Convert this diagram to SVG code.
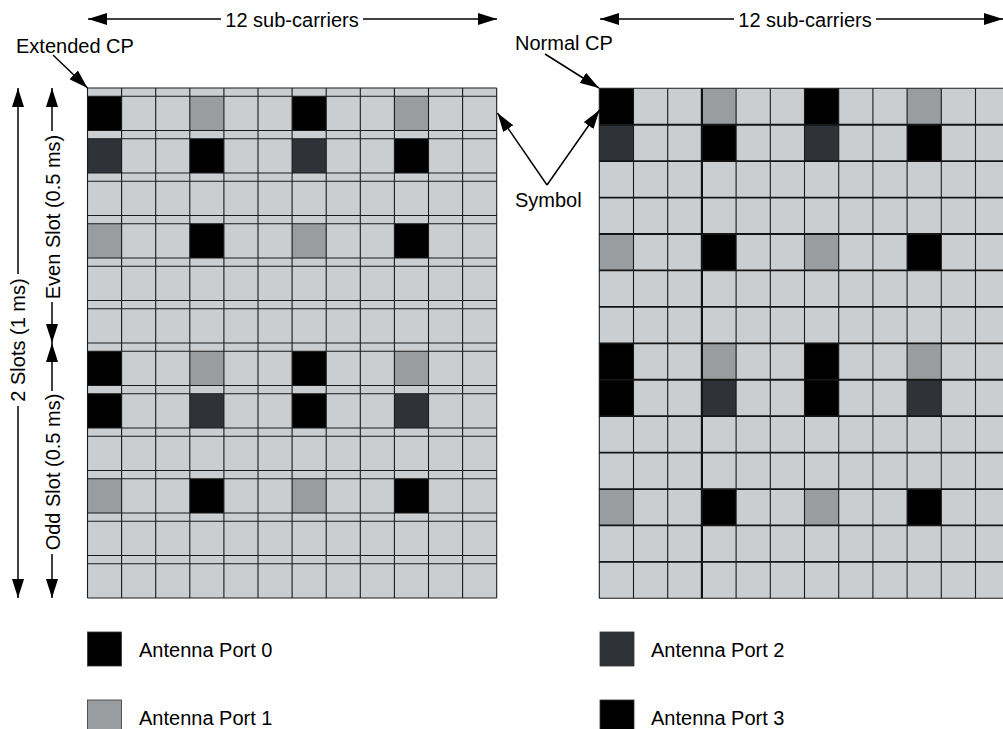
<svg xmlns="http://www.w3.org/2000/svg" width="1003" height="729" viewBox="0 0 1003 729">
<style>
  text { font-family: "Liberation Sans", Arial, sans-serif; font-size: 20px; fill: #000; }
  .bg { fill: #cbced1; }
  .k { fill: #000; }
  .d { fill: #2f3338; }
  .g { fill: #9a9d9f; }
  .grid { fill: none; stroke: #1a1a1a; stroke-width: 1.1; }
  .hgrid { fill: none; stroke: #151515; stroke-width: 1.8; }
  .thick { fill: none; stroke: #111; stroke-width: 2.2; }
  .conn { fill: none; stroke: #000; stroke-width: 1.5; }
  .sw { stroke: #333; stroke-width: 0.8; }
</style>
<defs>
  <marker id="ah" viewBox="0 0 19 12" refX="19" refY="6" markerWidth="19" markerHeight="12" markerUnits="userSpaceOnUse" orient="auto-start-reverse">
    <path d="M0,0 L19,6 L0,12 z" fill="#000"/>
  </marker>
</defs>
<rect width="1003" height="729" fill="#fff"/>

<g id="left-grid">
  <rect class="bg" x="87.5" y="88" width="409.2" height="510"/>
  <!-- row 0 -->
  <rect class="k" x="87.5" y="96.3" width="34.1" height="34.2"/>
  <rect class="g" x="189.8" y="96.3" width="34.1" height="34.2"/>
  <rect class="k" x="292.1" y="96.3" width="34.1" height="34.2"/>
  <rect class="g" x="394.4" y="96.3" width="34.1" height="34.2"/>
  <!-- row 1 -->
  <rect class="d" x="87.5" y="138.8" width="34.1" height="34.2"/>
  <rect class="k" x="189.8" y="138.8" width="34.1" height="34.2"/>
  <rect class="d" x="292.1" y="138.8" width="34.1" height="34.2"/>
  <rect class="k" x="394.4" y="138.8" width="34.1" height="34.2"/>
  <!-- row 3 -->
  <rect class="g" x="87.5" y="223.8" width="34.1" height="34.2"/>
  <rect class="k" x="189.8" y="223.8" width="34.1" height="34.2"/>
  <rect class="g" x="292.1" y="223.8" width="34.1" height="34.2"/>
  <rect class="k" x="394.4" y="223.8" width="34.1" height="34.2"/>
  <!-- row 6 -->
  <rect class="k" x="87.5" y="351.3" width="34.1" height="34.2"/>
  <rect class="g" x="189.8" y="351.3" width="34.1" height="34.2"/>
  <rect class="k" x="292.1" y="351.3" width="34.1" height="34.2"/>
  <rect class="g" x="394.4" y="351.3" width="34.1" height="34.2"/>
  <!-- row 7 -->
  <rect class="k" x="87.5" y="393.8" width="34.1" height="34.2"/>
  <rect class="d" x="189.8" y="393.8" width="34.1" height="34.2"/>
  <rect class="k" x="292.1" y="393.8" width="34.1" height="34.2"/>
  <rect class="d" x="394.4" y="393.8" width="34.1" height="34.2"/>
  <!-- row 9 -->
  <rect class="g" x="87.5" y="478.8" width="34.1" height="34.2"/>
  <rect class="k" x="189.8" y="478.8" width="34.1" height="34.2"/>
  <rect class="g" x="292.1" y="478.8" width="34.1" height="34.2"/>
  <rect class="k" x="394.4" y="478.8" width="34.1" height="34.2"/>
  <path class="grid" d="M87.5 88H496.7 M87.5 96.3H496.7 M87.5 130.5H496.7 M87.5 138.8H496.7 M87.5 173H496.7 M87.5 181.3H496.7 M87.5 215.5H496.7 M87.5 223.8H496.7 M87.5 258H496.7 M87.5 266.3H496.7 M87.5 300.5H496.7 M87.5 308.8H496.7 M87.5 343H496.7 M87.5 351.3H496.7 M87.5 385.5H496.7 M87.5 393.8H496.7 M87.5 428H496.7 M87.5 436.3H496.7 M87.5 470.5H496.7 M87.5 478.8H496.7 M87.5 513H496.7 M87.5 521.3H496.7 M87.5 555.5H496.7 M87.5 563.8H496.7 M87.5 598H496.7"/>
  <path class="grid" d="M87.5 88V598 M121.6 88V598 M155.7 88V598 M189.8 88V598 M223.9 88V598 M258 88V598 M292.1 88V598 M326.2 88V598 M360.3 88V598 M394.4 88V598 M428.5 88V598 M462.6 88V598 M496.7 88V598"/>
</g>

<g id="right-grid">
  <rect class="bg" x="599.3" y="88.3" width="410.4" height="510"/>
  <!-- row 0 -->
  <rect class="k" x="599.3" y="88.3" width="34.2" height="36.43"/>
  <rect class="g" x="701.9" y="88.3" width="34.2" height="36.43"/>
  <rect class="k" x="804.5" y="88.3" width="34.2" height="36.43"/>
  <rect class="g" x="907.1" y="88.3" width="34.2" height="36.43"/>
  <!-- row 1 -->
  <rect class="d" x="599.3" y="124.73" width="34.2" height="36.43"/>
  <rect class="k" x="701.9" y="124.73" width="34.2" height="36.43"/>
  <rect class="d" x="804.5" y="124.73" width="34.2" height="36.43"/>
  <rect class="k" x="907.1" y="124.73" width="34.2" height="36.43"/>
  <!-- row 4 -->
  <rect class="g" x="599.3" y="234.02" width="34.2" height="36.43"/>
  <rect class="k" x="701.9" y="234.02" width="34.2" height="36.43"/>
  <rect class="g" x="804.5" y="234.02" width="34.2" height="36.43"/>
  <rect class="k" x="907.1" y="234.02" width="34.2" height="36.43"/>
  <!-- row 7 -->
  <rect class="k" x="599.3" y="343.31" width="34.2" height="36.43"/>
  <rect class="g" x="701.9" y="343.31" width="34.2" height="36.43"/>
  <rect class="k" x="804.5" y="343.31" width="34.2" height="36.43"/>
  <rect class="g" x="907.1" y="343.31" width="34.2" height="36.43"/>
  <!-- row 8 -->
  <rect class="k" x="599.3" y="379.74" width="34.2" height="36.43"/>
  <rect class="d" x="701.9" y="379.74" width="34.2" height="36.43"/>
  <rect class="k" x="804.5" y="379.74" width="34.2" height="36.43"/>
  <rect class="d" x="907.1" y="379.74" width="34.2" height="36.43"/>
  <!-- row 11 -->
  <rect class="g" x="599.3" y="489.03" width="34.2" height="36.43"/>
  <rect class="k" x="701.9" y="489.03" width="34.2" height="36.43"/>
  <rect class="g" x="804.5" y="489.03" width="34.2" height="36.43"/>
  <rect class="k" x="907.1" y="489.03" width="34.2" height="36.43"/>
  <path class="grid" d="M599.3 88.3V598.3 M633.5 88.3V598.3 M667.7 88.3V598.3 M736.1 88.3V598.3 M770.3 88.3V598.3 M804.5 88.3V598.3 M838.7 88.3V598.3 M872.9 88.3V598.3 M907.1 88.3V598.3 M941.3 88.3V598.3 M975.5 88.3V598.3"/>
  <path class="thick" d="M701.9 88.3V598.3"/>
  <path class="grid" d="M599.3 88.3H1003 M599.3 598.3H1003"/>
  <path class="hgrid" d="M599.3 124.73H1003 M599.3 161.16H1003 M599.3 197.59H1003 M599.3 234.02H1003 M599.3 270.45H1003 M599.3 306.88H1003 M599.3 343.31H1003 M599.3 379.74H1003 M599.3 416.17H1003 M599.3 452.6H1003 M599.3 489.03H1003 M599.3 525.46H1003 M599.3 561.89H1003"/>
</g>

<g id="connectors">
  <path class="conn" d="M221 19H88" marker-end="url(#ah)"/>
  <path class="conn" d="M363 19H497" marker-end="url(#ah)"/>
  <path class="conn" d="M734 19H600" marker-end="url(#ah)"/>
  <path class="conn" d="M876 19H1003" marker-end="url(#ah)"/>
  <path class="conn" d="M53 55L87.5 88" marker-end="url(#ah)"/>
  <path class="conn" d="M545 54L599 88" marker-end="url(#ah)"/>
  <path class="conn" d="M547 185L497.5 113" marker-end="url(#ah)"/>
  <path class="conn" d="M547 185L599.5 110" marker-end="url(#ah)"/>
  <path class="conn" d="M18 274V88" marker-end="url(#ah)"/>
  <path class="conn" d="M18 406V598" marker-end="url(#ah)"/>
  <path class="conn" d="M52 131V88" marker-end="url(#ah)"/>
  <path class="conn" d="M52 302V343" marker-end="url(#ah)"/>
  <path class="conn" d="M52 391V343" marker-end="url(#ah)"/>
  <path class="conn" d="M52 554V598" marker-end="url(#ah)"/>
</g>

<g id="labels">
  <text x="292" y="26.5" text-anchor="middle">12 sub-carriers</text>
  <text x="805" y="26.5" text-anchor="middle">12 sub-carriers</text>
  <text x="16" y="52.5">Extended CP</text>
  <text x="515" y="49.5">Normal CP</text>
  <text x="515" y="207">Symbol</text>
  <text transform="translate(25,340) rotate(-90)" text-anchor="middle">2 Slots (1 ms)</text>
  <text transform="translate(59.5,217) rotate(-90)" text-anchor="middle">Even Slot (0.5 ms)</text>
  <text transform="translate(59.5,472) rotate(-90)" text-anchor="middle">Odd Slot (0.5 ms)</text>
</g>

<g id="legend-port0">
  <rect class="k sw" x="87.5" y="632" width="34" height="34"/>
  <text x="139" y="657">Antenna Port 0</text>
</g>
<g id="legend-port1">
  <rect class="g sw" x="87.5" y="700" width="34" height="34"/>
  <text x="139" y="724.5">Antenna Port 1</text>
</g>
<g id="legend-port2">
  <rect class="d sw" x="600" y="632" width="34" height="34"/>
  <text x="651" y="657">Antenna Port 2</text>
</g>
<g id="legend-port3">
  <rect class="k sw" x="600" y="700" width="34" height="34"/>
  <text x="651" y="724.5">Antenna Port 3</text>
</g>
</svg>
